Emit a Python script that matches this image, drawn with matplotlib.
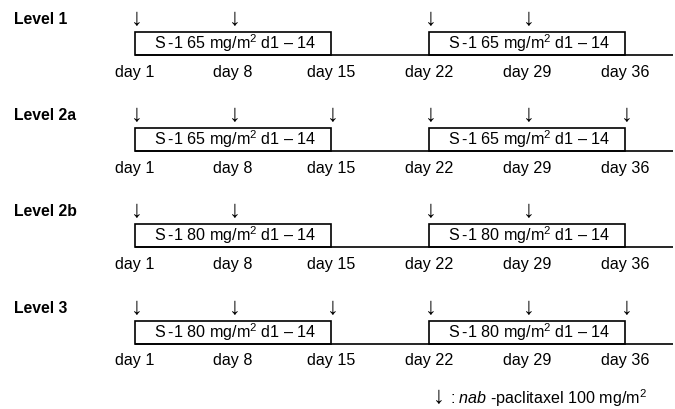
import matplotlib
matplotlib.use("Agg")
import matplotlib.pyplot as plt
from matplotlib.patches import Rectangle

plt.rcParams['font.family'] = ['Liberation Sans', 'DejaVu Sans']
plt.rcParams['mathtext.fontset'] = 'custom'
plt.rcParams['mathtext.rm'] = 'Liberation Sans'
plt.rcParams['mathtext.it'] = 'Liberation Sans:italic'

# ---- data ----
levels = ["Level 1", "Level 2a", "Level 2b", "Level 3"]
s1_doses = [65, 65, 80, 80]
arrow_days = [
    [1, 8, 22, 29],
    [1, 8, 15, 22, 29, 36],
    [1, 8, 22, 29],
    [1, 8, 15, 22, 29, 36],
]
cycle_starts = [1, 22]
cycle_length = 14
day_ticks = [1, 8, 15, 22, 29, 36]
legend_text = r"$\it{nab}$ -paclitaxel 100 mg/m$^2$"

# ---- figure ----
W, H = 675, 409
fig = plt.figure(figsize=(W / 100, H / 100), dpi=100)
ax = fig.add_axes([0, 0, 1, 1])
px_per_day = 14.0
x0_px = 135.0
ax.set_xlim(1 - x0_px / px_per_day, 1 + (W - x0_px) / px_per_day)
ax.set_ylim(H, 0)
ax.axis('off')

def px2day(px):
    return 1 + (px - x0_px) / px_per_day

baselines = [55, 151, 247, 344]
box_h = 23
fs = 11.6
afs = 17

for lvl, dose, arrows, yb in zip(levels, s1_doses, arrow_days, baselines):
    # level label
    ax.text(px2day(14), yb - 35.5, lvl, fontsize=fs - 0.3,
            fontweight='bold', ha='left', va='center')
    # baseline
    ax.plot([1, px2day(673)], [yb, yb], color='black', lw=1.2,
            solid_capstyle='butt')
    # boxes
    for cs in cycle_starts:
        ax.add_patch(Rectangle((cs, yb - box_h), cycle_length, box_h,
                               fill=False, edgecolor='black', lw=1.2))
        ax.text(cs + cycle_length / 2 + 0.15, yb - box_h / 2 - 0.5,
                f"S\u2009-1 {dose} mg/m$^2$ d1 \u2013 14", fontsize=fs,
                ha='center', va='center')
    # arrows
    for d in arrows:
        ax.text(d + 0.15, yb - 36, "↓", fontsize=afs, ha='center',
                va='center')
    # day labels
    for d in day_ticks:
        ax.text(d, yb + 17, f"day {d}", fontsize=fs, ha='center', va='center')

# legend
ax.text(px2day(439), 397, "↓", fontsize=afs, ha='center', va='center')
ax.text(px2day(450), 398, ": " + legend_text, fontsize=fs, ha='left',
        va='center')

fig.savefig("out.png", dpi=100)
